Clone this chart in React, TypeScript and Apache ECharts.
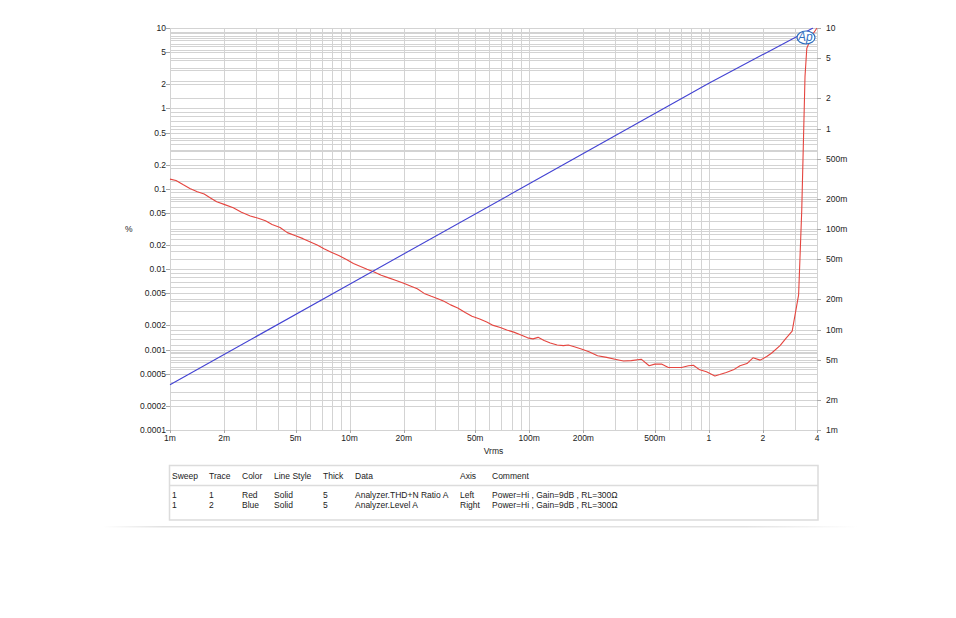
import React, { useEffect, useRef } from "react";
import * as echarts from "echarts";

// ---- Data ----
const thdX = [
  0.001, 0.00108, 0.00118, 0.00129, 0.00142, 0.00155, 0.00168, 0.00182, 0.002, 0.00225,
  0.0025, 0.0028, 0.0031, 0.0034, 0.0037, 0.0041, 0.0045, 0.005, 0.0055, 0.006,
  0.0066, 0.0072, 0.0079, 0.0087, 0.0096, 0.0105, 0.0115, 0.0125, 0.0137, 0.015,
  0.0165, 0.018, 0.02, 0.0218, 0.0238, 0.026, 0.0285, 0.031, 0.0335, 0.0365,
  0.04, 0.044, 0.048, 0.053, 0.058, 0.063, 0.069, 0.075, 0.082, 0.09,
  0.098, 0.105, 0.112, 0.121, 0.131, 0.143, 0.155, 0.165, 0.18, 0.195,
  0.215, 0.24, 0.27, 0.3, 0.335, 0.37, 0.42, 0.465, 0.5, 0.545,
  0.595, 0.65, 0.705, 0.77, 0.82, 0.89, 0.97, 1.08, 1.15, 1.25,
  1.37, 1.49, 1.63, 1.76, 1.93, 2.1, 2.23, 2.49, 2.7, 2.91,
  3.16, 3.29, 3.43, 3.51, 3.66, 3.82, 4.0,
];
const thdY = [
  0.132, 0.127, 0.113, 0.101, 0.092, 0.086, 0.077, 0.069, 0.064, 0.058,
  0.051, 0.046, 0.043, 0.04, 0.036, 0.033, 0.0285, 0.026, 0.024, 0.022,
  0.02, 0.018, 0.0162, 0.0148, 0.0132, 0.0118, 0.0108, 0.01, 0.0092, 0.0084,
  0.0078, 0.0073, 0.0067, 0.0062, 0.0057, 0.005, 0.0046, 0.0043, 0.004, 0.0036,
  0.0033, 0.0029, 0.0026, 0.0024, 0.0022, 0.002, 0.00188, 0.00175, 0.00165, 0.00152,
  0.0014, 0.00136, 0.00142, 0.0013, 0.00121, 0.00114, 0.00112, 0.00114, 0.00108, 0.00102,
  0.00094, 0.00084, 0.0008, 0.00076, 0.00072, 0.00073, 0.00076, 0.00063, 0.00066, 0.00066,
  0.0006, 0.0006, 0.0006, 0.00063, 0.00064, 0.00056, 0.00053, 0.00047, 0.00049, 0.00052,
  0.00056, 0.00063, 0.00067, 0.00079, 0.00074, 0.00082, 0.0009, 0.00112, 0.0014, 0.0017,
  0.0048, 0.0545, 2.5, 5.6, 7.0, 8.6, 10,
];
const levelX = [0.001, 0.01, 0.1, 1, 3.8];
const levelY = [0.00282, 0.0282, 0.282, 2.82, 10];

const xTickValues = [0.001, 0.002, 0.005, 0.01, 0.02, 0.05, 0.1, 0.2, 0.5, 1, 2, 4];
const xTickLabels = ["1m", "2m", "5m", "10m", "20m", "50m", "100m", "200m", "500m", "1", "2", "4"];
const leftTickValues = [10, 5, 2, 1, 0.5, 0.2, 0.1, 0.05, 0.02, 0.01, 0.005, 0.002, 0.001, 0.0005, 0.0002, 0.0001];
const leftTickLabels = ["10", "5", "2", "1", "0.5", "0.2", "0.1", "0.05", "0.02", "0.01", "0.005", "0.002", "0.001", "0.0005", "0.0002", "0.0001"];
const rightTickValues = [10, 5, 2, 1, 0.5, 0.2, 0.1, 0.05, 0.02, 0.01, 0.005, 0.002, 0.001];
const rightTickLabels = ["10", "5", "2", "1", "500m", "200m", "100m", "50m", "20m", "10m", "5m", "2m", "1m"];

const tableHeaders = ["Sweep", "Trace", "Color", "Line Style", "Thick", "Data", "Axis", "Comment"];
const tableRow1 = ["1", "1", "Red", "Solid", "5", "Analyzer.THD+N Ratio A", "Left", "Power=Hi , Gain=9dB , RL=300\u03A9"];
const tableRow2 = ["1", "2", "Blue", "Solid", "5", "Analyzer.Level A", "Right", "Power=Hi , Gain=9dB , RL=300\u03A9"];

// ---- Styles ----
const FONT = '"Liberation Sans", Arial, sans-serif';
const TXT = "#222";
const GRID = "#d3d3d3";
const LOGO = "#2f6fbf";
const tableColX = [172, 209, 242, 274, 323, 355, 460, 492];

function gridValues(decFrom: number, decTo: number, max: number): number[] {
  const out: number[] = [];
  for (let d = decFrom; d <= decTo; d++) {
    for (let k = 1; k <= 9; k++) {
      const v = parseFloat((k * Math.pow(10, d)).toPrecision(6));
      if (v <= max + 1e-12) out.push(v);
    }
  }
  if (!out.includes(max)) out.push(max);
  return out;
}

const px = (v: number) => Math.round(v) + 0.5;

export default function App() {
  const ref = useRef<HTMLDivElement>(null);
  useEffect(() => {
    if (!ref.current) return;
    const chart = echarts.init(ref.current, null, { renderer: "svg" });

    const xGrid = gridValues(-3, 0, 4);
    const lGrid = gridValues(-4, 0, 10);
    const rGrid = gridValues(-3, 0, 10);

    const vLineSeries = {
      type: "custom",
      silent: true,
      clip: false,
      z: 1,
      xAxisIndex: 0,
      yAxisIndex: 0,
      data: xGrid.map((v) => [v, 1]),
      renderItem: (params: any, api: any) => {
        const p = api.coord([api.value(0), 1]);
        const cs = params.coordSys;
        return {
          type: "line",
          shape: { x1: px(p[0]), y1: cs.y, x2: px(p[0]), y2: cs.y + cs.height },
          style: { stroke: GRID, lineWidth: 1 },
        };
      },
    };
    const hLineSeries = (vals: number[], yIdx: number) => ({
      type: "custom",
      silent: true,
      clip: false,
      z: 1,
      xAxisIndex: 0,
      yAxisIndex: yIdx,
      data: vals.map((v) => [1, v]),
      renderItem: (params: any, api: any) => {
        const p = api.coord([1, api.value(1)]);
        const cs = params.coordSys;
        return {
          type: "line",
          shape: { x1: cs.x, y1: px(p[1]), x2: cs.x + cs.width, y2: px(p[1]) },
          style: { stroke: GRID, lineWidth: 1 },
        };
      },
    });

    const xLabelSeries = {
      type: "custom",
      silent: true,
      clip: false,
      z: 5,
      xAxisIndex: 0,
      yAxisIndex: 0,
      data: xTickValues.map((v) => [v, 1]),
      renderItem: (params: any, api: any) => {
        const p = api.coord([api.value(0), 1]);
        const cs = params.coordSys;
        const yb = cs.y + cs.height;
        return {
          type: "group",
          children: [
            { type: "line", shape: { x1: px(p[0]), y1: yb, x2: px(p[0]), y2: yb + 3 }, style: { stroke: "#aaa", lineWidth: 1 } },
            {
              type: "text",
              x: p[0],
              y: yb + 7.5,
              style: { text: xTickLabels[params.dataIndex], align: "center", verticalAlign: "middle", fontSize: 8.5, fontFamily: FONT, fill: TXT },
            },
          ],
        };
      },
    };
    const yLabelSeries = (vals: number[], labels: string[], yIdx: number, side: "left" | "right") => ({
      type: "custom",
      silent: true,
      clip: false,
      z: 5,
      xAxisIndex: 0,
      yAxisIndex: yIdx,
      data: vals.map((v) => [1, v]),
      renderItem: (params: any, api: any) => {
        const p = api.coord([1, api.value(1)]);
        const cs = params.coordSys;
        const xe = side === "left" ? cs.x : cs.x + cs.width;
        const dir = side === "left" ? -1 : 1;
        return {
          type: "group",
          children: [
            { type: "line", shape: { x1: xe, y1: px(p[1]), x2: xe + dir * 4, y2: px(p[1]) }, style: { stroke: "#aaa", lineWidth: 1 } },
            {
              type: "text",
              x: side === "left" ? xe - 4 : xe + 9,
              y: p[1],
              style: {
                text: labels[params.dataIndex],
                align: side === "left" ? "right" : "left",
                verticalAlign: "middle",
                fontSize: 8.5,
                fontFamily: FONT,
                fill: TXT,
              },
            },
          ],
        };
      },
    });

    const hiddenAxis = {
      axisLine: { show: false },
      axisTick: { show: false },
      axisLabel: { show: false },
      splitLine: { show: false },
    };

    const tableText = (texts: string[], y: number) =>
      texts.map((t, i) => ({
        type: "text",
        x: tableColX[i],
        y,
        style: { text: t, fontSize: 8.5, fontFamily: FONT, fill: TXT, verticalAlign: "middle", align: "left" },
      }));

    const option: any = {
      animation: false,
      grid: { left: 170, top: 28, width: 647, height: 402 },
      xAxis: {
        type: "log",
        logBase: 10,
        min: 0.001,
        max: 4,
        ...hiddenAxis,
        name: "Vrms",
        nameLocation: "middle",
        nameGap: 16,
        nameTextStyle: { fontSize: 8.5, fontFamily: FONT, color: TXT },
      },
      yAxis: [
        { type: "log", logBase: 10, min: 0.0001, max: 10, position: "left", ...hiddenAxis },
        { type: "log", logBase: 10, min: 0.001, max: 10, position: "right", ...hiddenAxis },
      ],
      series: [
        vLineSeries,
        hLineSeries(lGrid, 0),
        hLineSeries(rGrid, 1),
        xLabelSeries,
        yLabelSeries(leftTickValues, leftTickLabels, 0, "left"),
        yLabelSeries(rightTickValues, rightTickLabels, 1, "right"),
        {
          type: "line",
          name: "Analyzer.THD+N Ratio A",
          yAxisIndex: 0,
          data: thdX.map((x, i) => [x, thdY[i]]),
          showSymbol: false,
          symbol: "none",
          lineStyle: { color: "#e5453f", width: 1.1 },
          z: 3,
          silent: true,
        },
        {
          type: "line",
          name: "Analyzer.Level A",
          yAxisIndex: 1,
          data: levelX.map((x, i) => [x, levelY[i]]),
          showSymbol: false,
          symbol: "none",
          lineStyle: { color: "#4343d3", width: 1.1 },
          z: 3,
          silent: true,
        },
      ],
      graphic: [
        {
          type: "text",
          left: 125,
          top: 224,
          style: { text: "%", fontSize: 8.5, fontFamily: FONT, fill: TXT },
        },
        {
          type: "ellipse",
          z: 100,
          shape: { cx: 806, cy: 37.5, rx: 9, ry: 6.5 },
          style: { fill: "#ffffff", stroke: LOGO, lineWidth: 1.2 },
        },
        {
          type: "text",
          z: 101,
          left: 798,
          top: 31,
          style: {
            text: "Ap",
            fontSize: 12,
            fontStyle: "italic",
            fontFamily: FONT,
            fill: LOGO,
            stroke: "none",
          },
        },
        {
          type: "rect",
          shape: { x: 169.5, y: 465.5, width: 648.5, height: 54.5 },
          style: { fill: "#ffffff", stroke: "#dcdcdc", lineWidth: 1.5 },
        },
        {
          type: "line",
          shape: { x1: 169.5, y1: 485.5, x2: 818, y2: 485.5 },
          style: { stroke: "#dcdcdc", lineWidth: 1.5 },
        },
        {
          type: "rect",
          shape: { x: 103, y: 526, width: 754, height: 1.5 },
          style: {
            fill: new echarts.graphic.LinearGradient(0, 0, 1, 0, [
              { offset: 0, color: "rgba(225,225,225,0)" },
              { offset: 0.08, color: "rgba(225,225,225,1)" },
              { offset: 0.85, color: "rgba(225,225,225,1)" },
              { offset: 1, color: "rgba(225,225,225,0)" },
            ]),
          },
        },
        ...tableText(tableHeaders, 475.5),
        ...tableText(tableRow1, 495),
        ...tableText(tableRow2, 505),
      ],
    };
    chart.setOption(option);
    return () => chart.dispose();
  }, []);

  return <div ref={ref} style={{ position: "absolute", left: 0, top: 0, width: 956, height: 618 }} />;
}
